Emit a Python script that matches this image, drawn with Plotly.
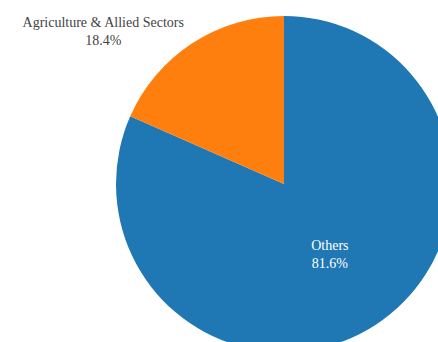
import plotly.graph_objects as go

# Share of output by sector
sectors = ["Others", "Agriculture & Allied Sectors"]
shares = [81.6, 18.4]
slice_colors = ["#1f77b4", "#ff7f0e"]
label_positions = ["inside", "outside"]

fig = go.Figure(
    go.Pie(
        labels=sectors,
        values=shares,
        marker=dict(colors=slice_colors),
        direction="clockwise",
        sort=False,
        textinfo="label+percent",
        textposition=label_positions,
        insidetextorientation="horizontal",
        automargin=False,
        showlegend=False,
    )
)

fig.update_layout(
    width=568,
    height=352,
    margin=dict(l=0, r=0, t=16, b=0),
    font=dict(family="Liberation Serif, Times New Roman, serif", size=14, color="#444"),
    paper_bgcolor="white",
    plot_bgcolor="white",
)

fig.write_html(
    "out.html",
    post_script="document.body.style.margin='0';document.body.style.overflow='hidden';",
)
